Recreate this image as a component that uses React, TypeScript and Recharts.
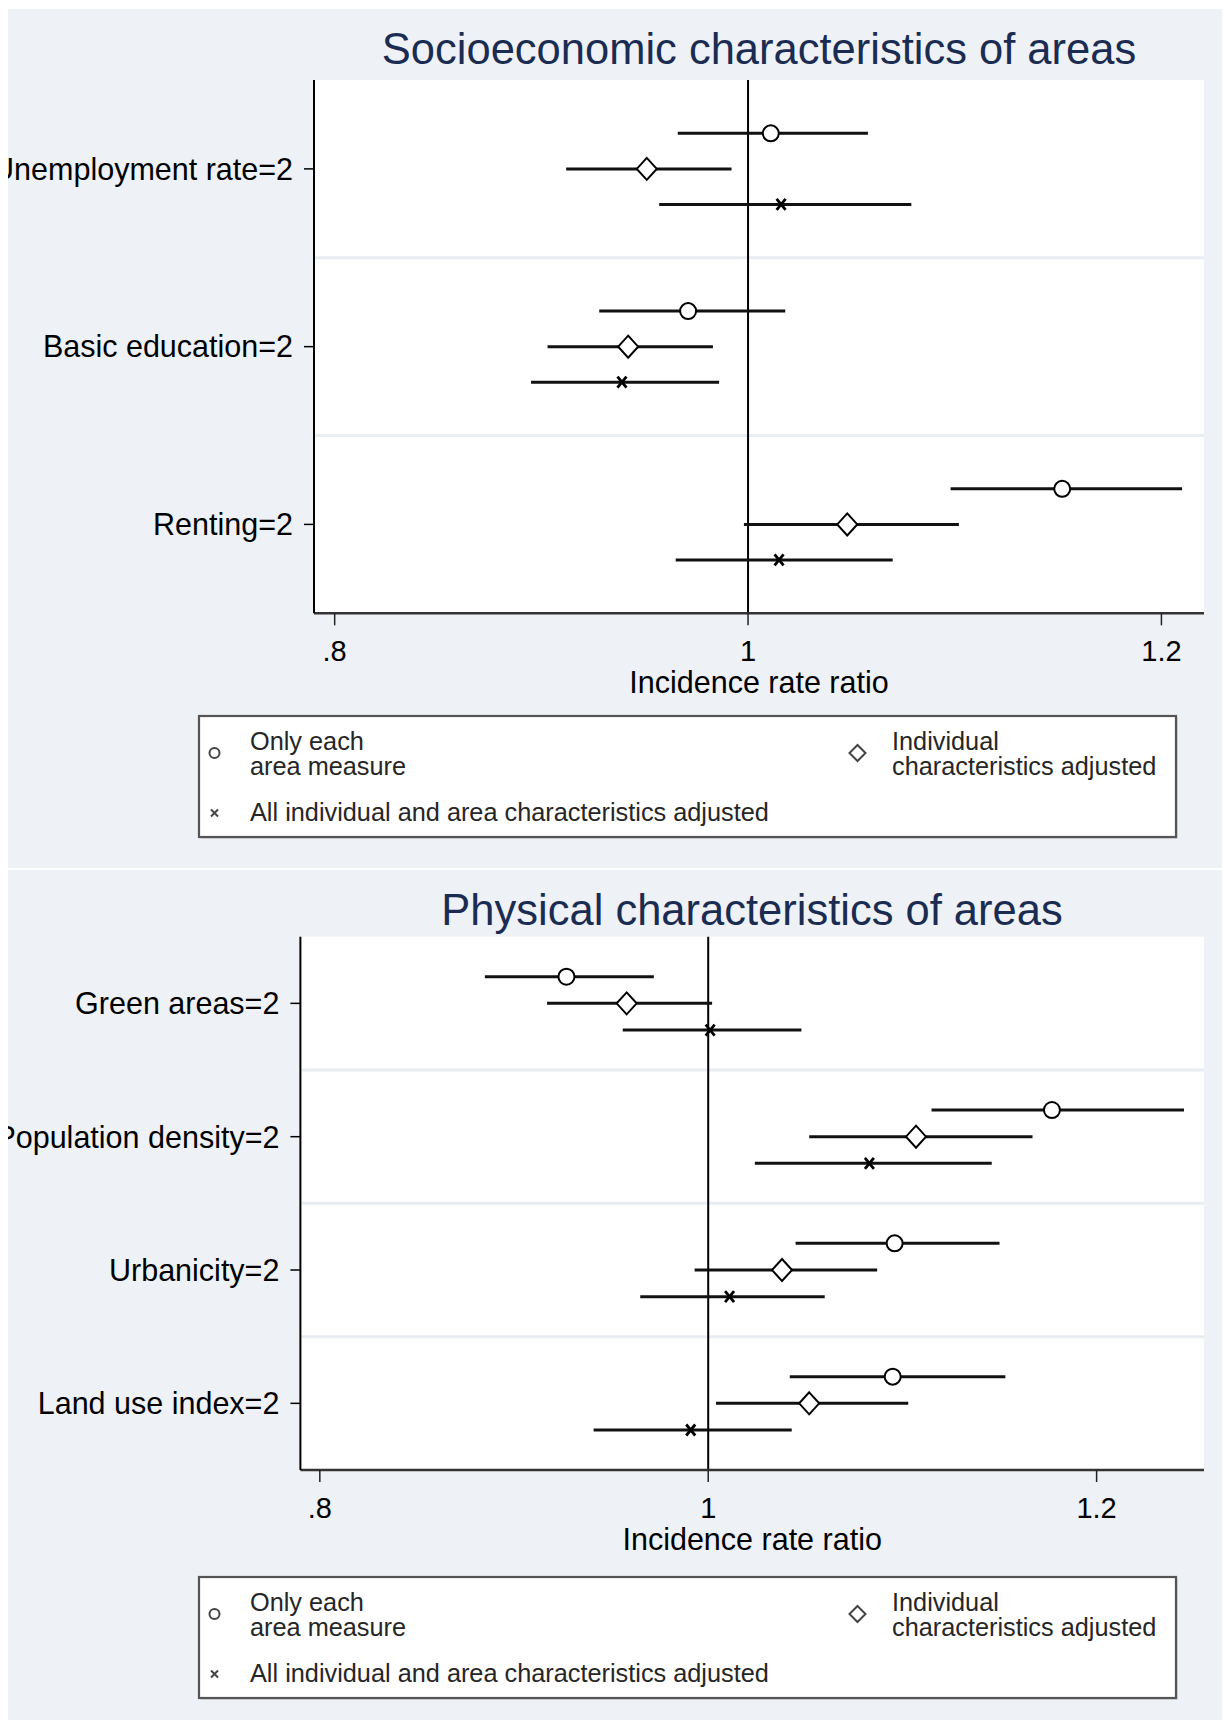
import React from "react";
import {
  ScatterChart,
  Scatter,
  XAxis,
  YAxis,
  CartesianGrid,
  ReferenceLine,
  ErrorBar,
} from "recharts";

// estimate, lower CI, upper CI for each row
const socioLabels = ["Unemployment rate=2", "Basic education=2", "Renting=2"];
const socioOnlyEach = [
  [1.011, 0.966, 1.058],
  [0.971, 0.928, 1.018],
  [1.152, 1.098, 1.21],
];
const socioIndividual = [
  [0.951, 0.912, 0.992],
  [0.942, 0.903, 0.983],
  [1.048, 0.998, 1.102],
];
const socioAll = [
  [1.016, 0.957, 1.079],
  [0.939, 0.895, 0.986],
  [1.015, 0.965, 1.07],
];

const physLabels = [
  "Green areas=2",
  "Population density=2",
  "Urbanicity=2",
  "Land use index=2",
];
const physOnlyEach = [
  [0.927, 0.885, 0.972],
  [1.177, 1.115, 1.245],
  [1.096, 1.045, 1.15],
  [1.095, 1.042, 1.153],
];
const physIndividual = [
  [0.958, 0.917, 1.002],
  [1.107, 1.052, 1.167],
  [1.038, 0.993, 1.087],
  [1.052, 1.004, 1.103],
];
const physAll = [
  [1.001, 0.956, 1.048],
  [1.083, 1.024, 1.146],
  [1.011, 0.965, 1.06],
  [0.991, 0.941, 1.043],
];

const xTicks = [0.8, 1, 1.2];
const xTickLabels = [".8", "1", "1.2"];

const legendNames = [
  ["Only each", "area measure"],
  ["Individual", "characteristics adjusted"],
  ["All individual and area characteristics adjusted"],
];

const FONT = "'Liberation Sans', Arial, Helvetica, sans-serif";
const BG = "#eef1f6";

function toPoints(rows: number[][], offset: number) {
  return rows.map((r, i) => ({
    x: r[0],
    y: i + 1 + offset,
    err: [r[0] - r[1], r[2] - r[0]],
  }));
}

const CircleShape = (p: any) => (
  <circle cx={p.cx} cy={p.cy} r={8} fill="#fff" stroke="#000" strokeWidth={2} />
);
const DiamondShape = (p: any) => (
  <path
    d={`M${p.cx},${p.cy - 11}L${p.cx + 10},${p.cy}L${p.cx},${p.cy + 11}L${p.cx - 10},${p.cy}Z`}
    fill="#fff"
    stroke="#000"
    strokeWidth={2}
  />
);
const XShape = (p: any) => (
  <path
    d={`M${p.cx - 4.5},${p.cy - 5.5}L${p.cx + 4.5},${p.cy + 5.5}M${p.cx + 4.5},${p.cy - 5.5}L${p.cx - 4.5},${p.cy + 5.5}`}
    stroke="#000"
    strokeWidth={2.8}
  />
);

function LegendBox({ top }: { top: number }) {
  return (
    <svg
      width={980}
      height={124}
      style={{ position: "absolute", left: 190, top, overflow: "visible" }}
    >
      <rect x={2.5} y={2.5} width={977} height={121} fill="#8a8a8a" opacity={0.5} />
      <rect x={1} y={1} width={977} height={121} fill="#fff" stroke="#555" strokeWidth={2.2} />
      <circle cx={16.5} cy={38} r={5} fill="none" stroke="#444" strokeWidth={2} />
      <path d="M659.5,30L667.5,38L659.5,46L651.5,38Z" fill="none" stroke="#444" strokeWidth={2} />
      <path d="M13,94.5L20,101.5M20,94.5L13,101.5" stroke="#444" strokeWidth={2} />
      <g fontFamily={FONT} fontSize={25.3} fill="#262626">
        <text x={52} y={35}>{legendNames[0][0]}</text>
        <text x={52} y={60}>{legendNames[0][1]}</text>
        <text x={694} y={35}>{legendNames[1][0]}</text>
        <text x={694} y={60}>{legendNames[1][1]}</text>
        <text x={52} y={106}>{legendNames[2][0]}</text>
      </g>
    </svg>
  );
}

function ForestPanel({
  title,
  labels,
  onlyEach,
  individual,
  all,
  height,
  marginTop,
  yAxisWidth,
  xMax,
  titleX,
}: {
  title: string;
  labels: string[];
  onlyEach: number[][];
  individual: number[][];
  all: number[][];
  height: number;
  marginTop: number;
  yAxisWidth: number;
  xMax: number;
  titleX: number;
}) {
  const n = labels.length;
  const rowTicks = labels.map((_, i) => i + 1);
  const separators = labels.slice(1).map((_, i) => i + 1.5);
  const bottomSpace = height - marginTop - 533.3;

  return (
    <div style={{ position: "relative", width: 1222, height, background: BG }}>
      <ScatterChart
        width={1222}
        height={height}
        margin={{ top: marginTop, right: 26, left: 0, bottom: bottomSpace - 90 }}
      >
        <CartesianGrid horizontal={false} vertical={false} fill="#fff" stroke="none" />
        <XAxis
          type="number"
          dataKey="x"
          domain={[0.79, xMax]}
          allowDataOverflow
          ticks={xTicks}
          tickFormatter={(v: number) => xTickLabels[xTicks.indexOf(v)]}
          height={90}
          tickSize={12}
          tickMargin={15}
          axisLine={{ stroke: "#333", strokeWidth: 2.5 }}
          tickLine={{ stroke: "#222", strokeWidth: 1.5 }}
          tick={{ fontSize: 29, fill: "#000", fontFamily: FONT }}
          label={{
            value: "Incidence rate ratio",
            position: "insideBottom",
            offset: 10,
            style: { fontSize: 30.5, fill: "#000", fontFamily: FONT },
          }}
        />
        <YAxis
          type="number"
          dataKey="y"
          domain={[0.5, n + 0.5]}
          allowDataOverflow
          reversed
          ticks={rowTicks}
          interval={0}
          tickFormatter={(v: number) => labels[v - 1]}
          width={yAxisWidth}
          tickSize={10}
          tickMargin={11}
          axisLine={{ stroke: "#000", strokeWidth: 2 }}
          tickLine={{ stroke: "#000", strokeWidth: 1.5 }}
          tick={{ fontSize: 30.5, fill: "#000", fontFamily: FONT }}
        />
        {separators.map((s) => (
          <ReferenceLine key={s} y={s} stroke="#e8edf3" strokeWidth={3} />
        ))}
        <ReferenceLine x={1} stroke="#000" strokeWidth={2} />
        <Scatter
          data={toPoints(onlyEach, -0.2)}
          shape={CircleShape}
          isAnimationActive={false}
        >
          <ErrorBar dataKey="err" direction="x" width={0} stroke="#111" strokeWidth={3} isAnimationActive={false} />
        </Scatter>
        <Scatter
          data={toPoints(individual, 0)}
          shape={DiamondShape}
          isAnimationActive={false}
        >
          <ErrorBar dataKey="err" direction="x" width={0} stroke="#111" strokeWidth={3} isAnimationActive={false} />
        </Scatter>
        <Scatter data={toPoints(all, 0.2)} shape={XShape} isAnimationActive={false}>
          <ErrorBar dataKey="err" direction="x" width={0} stroke="#111" strokeWidth={3} isAnimationActive={false} />
        </Scatter>
      </ScatterChart>
      <svg
        width={1222}
        height={70}
        style={{ position: "absolute", left: 0, top: 0, pointerEvents: "none" }}
      >
        <text
          x={titleX}
          y={55}
          textAnchor="middle"
          fontFamily={FONT}
          fontSize={43.5}
          fill="#1b2c52"
        >
          {title}
        </text>
      </svg>
      <LegendBox top={706} />
    </div>
  );
}

export default function App() {
  return (
    <div style={{ width: 1222, paddingTop: 1, background: "#fff" }}>
      <ForestPanel
        title="Socioeconomic characteristics of areas"
        labels={socioLabels}
        onlyEach={socioOnlyEach}
        individual={socioIndividual}
        all={socioAll}
        height={859}
        marginTop={71}
        yAxisWidth={306}
        xMax={1.2206}
        titleX={751}
      />
      <div style={{ height: 2, background: "#fff" }} />
      <ForestPanel
        title="Physical characteristics of areas"
        labels={physLabels}
        onlyEach={physOnlyEach}
        individual={physIndividual}
        all={physAll}
        height={850}
        marginTop={66.7}
        yAxisWidth={292.4}
        xMax={1.2553}
        titleX={744}
      />
    </div>
  );
}
